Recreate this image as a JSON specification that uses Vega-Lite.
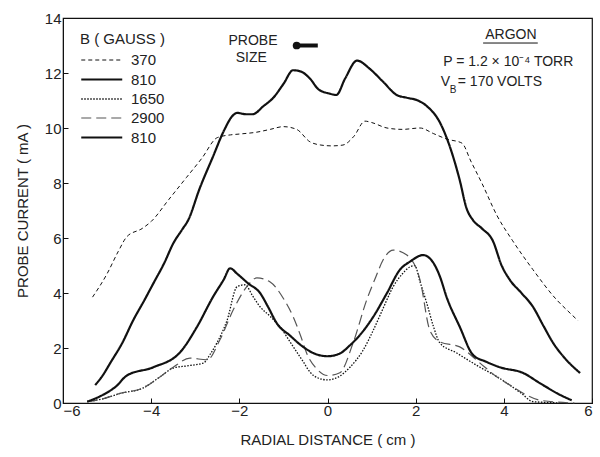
{
  "$schema": "https://vega.github.io/schema/vega-lite/v6.json",
  "width": 529,
  "height": 385,
  "autosize": "none",
  "padding": {"left": 63, "top": 18, "right": 8, "bottom": 54},
  "background": "white",
  "config": {
    "font": "Liberation Sans",
    "view": {"stroke": "#111", "strokeWidth": 1.2},
    "axis": {
      "labelFont": "Liberation Sans", "titleFont": "Liberation Sans",
      "labelFontSize": 15, "titleFontSize": 15, "titleFontWeight": "normal",
      "labelColor": "#222", "titleColor": "#222",
      "grid": false, "domainColor": "#111", "tickColor": "#111", "tickSize": -5, "tickWidth": 1
    }
  },
  "datasets": {
    "curves": [
      {"s":"370","x":-5.33,"y":3.85},{"s":"370","x":-5.0,"y":4.7},{"s":"370","x":-4.75,"y":5.5},{"s":"370","x":-4.55,"y":6.05},{"s":"370","x":-4.2,"y":6.35},{"s":"370","x":-4.0,"y":6.6},{"s":"370","x":-3.6,"y":7.4},{"s":"370","x":-3.2,"y":8.2},{"s":"370","x":-2.85,"y":8.9},{"s":"370","x":-2.5,"y":9.65},{"s":"370","x":-2.2,"y":9.75},{"s":"370","x":-2.0,"y":9.78},{"s":"370","x":-1.6,"y":9.85},{"s":"370","x":-1.3,"y":9.95},{"s":"370","x":-1.0,"y":10.05},{"s":"370","x":-0.7,"y":9.95},{"s":"370","x":-0.4,"y":9.5},{"s":"370","x":-0.15,"y":9.38},{"s":"370","x":0.1,"y":9.35},{"s":"370","x":0.35,"y":9.38},{"s":"370","x":0.6,"y":9.7},{"s":"370","x":0.85,"y":10.25},{"s":"370","x":1.0,"y":10.2},{"s":"370","x":1.35,"y":10.0},{"s":"370","x":1.7,"y":9.95},{"s":"370","x":2.1,"y":10.0},{"s":"370","x":2.4,"y":9.8},{"s":"370","x":2.7,"y":9.6},{"s":"370","x":3.05,"y":9.45},{"s":"370","x":3.25,"y":8.8},{"s":"370","x":3.5,"y":8.0},{"s":"370","x":3.85,"y":6.8},{"s":"370","x":4.2,"y":5.9},{"s":"370","x":4.66,"y":4.85},{"s":"370","x":5.2,"y":3.75},{"s":"370","x":5.45,"y":3.35},{"s":"370","x":5.68,"y":3.0},

      {"s":"810","x":-5.27,"y":0.65},{"s":"810","x":-5.1,"y":1.0},{"s":"810","x":-4.93,"y":1.45},{"s":"810","x":-4.65,"y":2.2},{"s":"810","x":-4.41,"y":3.0},{"s":"810","x":-4.15,"y":3.75},{"s":"810","x":-3.95,"y":4.35},{"s":"810","x":-3.7,"y":5.1},{"s":"810","x":-3.5,"y":5.8},{"s":"810","x":-3.3,"y":6.3},{"s":"810","x":-3.16,"y":6.65},{"s":"810","x":-2.9,"y":7.8},{"s":"810","x":-2.6,"y":8.95},{"s":"810","x":-2.35,"y":9.9},{"s":"810","x":-2.15,"y":10.45},{"s":"810","x":-2.05,"y":10.55},{"s":"810","x":-1.85,"y":10.5},{"s":"810","x":-1.7,"y":10.5},{"s":"810","x":-1.45,"y":10.8},{"s":"810","x":-1.23,"y":11.1},{"s":"810","x":-1.0,"y":11.6},{"s":"810","x":-0.78,"y":12.1},{"s":"810","x":-0.6,"y":12.05},{"s":"810","x":-0.4,"y":11.8},{"s":"810","x":-0.2,"y":11.4},{"s":"810","x":0.05,"y":11.25},{"s":"810","x":0.2,"y":11.2},{"s":"810","x":0.4,"y":11.8},{"s":"810","x":0.67,"y":12.45},{"s":"810","x":0.96,"y":12.15},{"s":"810","x":1.25,"y":11.7},{"s":"810","x":1.57,"y":11.2},{"s":"810","x":1.8,"y":11.1},{"s":"810","x":2.05,"y":11.0},{"s":"810","x":2.25,"y":10.8},{"s":"810","x":2.55,"y":10.2},{"s":"810","x":2.78,"y":9.3},{"s":"810","x":3.0,"y":8.1},{"s":"810","x":3.15,"y":7.1},{"s":"810","x":3.3,"y":6.65},{"s":"810","x":3.5,"y":6.35},{"s":"810","x":3.75,"y":5.9},{"s":"810","x":3.95,"y":5.0},{"s":"810","x":4.14,"y":4.47},{"s":"810","x":4.4,"y":4.0},{"s":"810","x":4.66,"y":3.5},{"s":"810","x":4.9,"y":2.8},{"s":"810","x":5.12,"y":2.18},{"s":"810","x":5.4,"y":1.6},{"s":"810","x":5.73,"y":1.09},

      {"s":"1650","x":-5.45,"y":0.05},{"s":"1650","x":-5.1,"y":0.15},{"s":"1650","x":-4.7,"y":0.35},{"s":"1650","x":-4.18,"y":0.55},{"s":"1650","x":-3.8,"y":0.95},{"s":"1650","x":-3.5,"y":1.27},{"s":"1650","x":-3.19,"y":1.35},{"s":"1650","x":-2.82,"y":1.45},{"s":"1650","x":-2.65,"y":1.8},{"s":"1650","x":-2.51,"y":2.18},{"s":"1650","x":-2.28,"y":3.0},{"s":"1650","x":-2.05,"y":4.23},{"s":"1650","x":-1.87,"y":4.3},{"s":"1650","x":-1.7,"y":3.9},{"s":"1650","x":-1.53,"y":3.5},{"s":"1650","x":-1.3,"y":3.15},{"s":"1650","x":-1.08,"y":2.77},{"s":"1650","x":-0.78,"y":2.05},{"s":"1650","x":-0.55,"y":1.5},{"s":"1650","x":-0.4,"y":1.13},{"s":"1650","x":-0.2,"y":0.9},{"s":"1650","x":0.0,"y":0.84},{"s":"1650","x":0.25,"y":0.95},{"s":"1650","x":0.51,"y":1.3},{"s":"1650","x":0.8,"y":1.9},{"s":"1650","x":1.04,"y":2.65},{"s":"1650","x":1.25,"y":3.4},{"s":"1650","x":1.49,"y":4.23},{"s":"1650","x":1.7,"y":4.7},{"s":"1650","x":1.87,"y":4.95},{"s":"1650","x":1.98,"y":5.0},{"s":"1650","x":2.1,"y":4.4},{"s":"1650","x":2.25,"y":3.64},{"s":"1650","x":2.4,"y":2.8},{"s":"1650","x":2.55,"y":2.18},{"s":"1650","x":2.93,"y":1.82},{"s":"1650","x":3.2,"y":1.55},{"s":"1650","x":3.46,"y":1.3},{"s":"1650","x":3.8,"y":1.0},{"s":"1650","x":4.07,"y":0.72},{"s":"1650","x":4.4,"y":0.35},{"s":"1650","x":4.66,"y":0.05},{"s":"1650","x":5.4,"y":0.0},

      {"s":"2900","x":-5.45,"y":0.05},{"s":"2900","x":-5.1,"y":0.15},{"s":"2900","x":-4.7,"y":0.35},{"s":"2900","x":-4.18,"y":0.55},{"s":"2900","x":-3.8,"y":0.95},{"s":"2900","x":-3.5,"y":1.3},{"s":"2900","x":-3.12,"y":1.63},{"s":"2900","x":-2.73,"y":1.57},{"s":"2900","x":-2.44,"y":2.3},{"s":"2900","x":-2.14,"y":3.38},{"s":"2900","x":-1.83,"y":4.23},{"s":"2900","x":-1.6,"y":4.55},{"s":"2900","x":-1.3,"y":4.4},{"s":"2900","x":-1.0,"y":3.8},{"s":"2900","x":-0.78,"y":3.14},{"s":"2900","x":-0.6,"y":2.4},{"s":"2900","x":-0.47,"y":1.8},{"s":"2900","x":-0.25,"y":1.25},{"s":"2900","x":0.0,"y":1.0},{"s":"2900","x":0.28,"y":1.1},{"s":"2900","x":0.58,"y":2.18},{"s":"2900","x":0.89,"y":3.75},{"s":"2900","x":1.1,"y":4.6},{"s":"2900","x":1.26,"y":5.2},{"s":"2900","x":1.49,"y":5.56},{"s":"2900","x":1.8,"y":5.38},{"s":"2900","x":2.1,"y":4.47},{"s":"2900","x":2.32,"y":2.65},{"s":"2900","x":2.55,"y":2.22},{"s":"2900","x":3.0,"y":2.04},{"s":"2900","x":3.46,"y":1.45},{"s":"2900","x":3.8,"y":1.0},{"s":"2900","x":4.21,"y":0.58},{"s":"2900","x":4.5,"y":0.3},{"s":"2900","x":4.82,"y":0.1},{"s":"2900","x":5.6,"y":0.0},

      {"s":"810b","x":-5.45,"y":0.05},{"s":"810b","x":-5.09,"y":0.3},{"s":"810b","x":-4.8,"y":0.6},{"s":"810b","x":-4.55,"y":1.0},{"s":"810b","x":-3.95,"y":1.3},{"s":"810b","x":-3.34,"y":1.85},{"s":"810b","x":-2.96,"y":2.77},{"s":"810b","x":-2.6,"y":3.85},{"s":"810b","x":-2.35,"y":4.5},{"s":"810b","x":-2.21,"y":4.9},{"s":"810b","x":-2.05,"y":4.7},{"s":"810b","x":-1.8,"y":4.35},{"s":"810b","x":-1.53,"y":4.0},{"s":"810b","x":-1.35,"y":3.5},{"s":"810b","x":-1.15,"y":2.9},{"s":"810b","x":-0.85,"y":2.45},{"s":"810b","x":-0.56,"y":2.05},{"s":"810b","x":-0.3,"y":1.8},{"s":"810b","x":0.0,"y":1.7},{"s":"810b","x":0.28,"y":1.8},{"s":"810b","x":0.51,"y":2.1},{"s":"810b","x":0.75,"y":2.5},{"s":"810b","x":1.04,"y":3.14},{"s":"810b","x":1.35,"y":4.0},{"s":"810b","x":1.64,"y":4.84},{"s":"810b","x":1.87,"y":5.14},{"s":"810b","x":2.17,"y":5.38},{"s":"810b","x":2.4,"y":5.1},{"s":"810b","x":2.55,"y":4.6},{"s":"810b","x":2.7,"y":3.86},{"s":"810b","x":3.0,"y":2.77},{"s":"810b","x":3.3,"y":1.75},{"s":"810b","x":3.6,"y":1.5},{"s":"810b","x":3.91,"y":1.3},{"s":"810b","x":4.44,"y":1.09},{"s":"810b","x":4.82,"y":0.72},{"s":"810b","x":5.27,"y":0.3},{"s":"810b","x":5.54,"y":0.1}
    ],
    "notes": [
      {"t":"PROBE","x":-1.69,"y":13.16,"a":"center"},
      {"t":"SIZE","x":-1.73,"y":12.55,"a":"center"},
      {"t":"ARGON","x":4.16,"y":13.38,"a":"center"},
      {"t":"P = 1.2 × 10⁻⁴ TORR","x":4.1,"y":12.4,"a":"center"}
    ]
  },
  "layer": [
    {
      "data": {"name": "curves"},
      "mark": {"type": "line", "interpolate": "monotone"},
      "encoding": {
        "x": {"field": "x", "type": "quantitative", "scale": {"domain": [-6, 6], "nice": false},
              "axis": {"values": [-6, -4, -2, 0, 2, 4, 6], "title": "RADIAL DISTANCE ( cm )", "labelPadding": 5, "titlePadding": 14}},
        "y": {"field": "y", "type": "quantitative", "scale": {"domain": [0, 14], "nice": false},
              "axis": {"values": [0, 2, 4, 6, 8, 10, 12, 14], "title": "PROBE CURRENT ( mA )", "labelPadding": 7, "titlePadding": 14}},
        "color": {"field": "s", "type": "nominal",
                  "scale": {"domain": ["370", "810", "1650", "2900", "810b"], "range": ["#111", "#111", "#111", "#555", "#111"]},
                  "legend": {"title": "B ( GAUSS )", "orient": "none", "legendX": 17, "legendY": 14, "padding": 0,
                             "labelExpr": "datum.label == '810b' ? '810' : datum.label",
                             "symbolType": "M-1,0H3", "symbolSize": 420, "rowPadding": -2, "labelOffset": 28, "titlePadding": 2,
                             "labelFontSize": 15, "titleFontSize": 15, "titleFontWeight": "normal",
                             "labelColor": "#222", "titleColor": "#222", "labelFont": "Liberation Sans", "titleFont": "Liberation Sans"}},
        "strokeDash": {"field": "s", "type": "nominal",
                       "scale": {"type": "ordinal", "domain": ["370", "810", "1650", "2900", "810b"], "range": [[4, 3], [1, 0], [1.5, 1.5], [10, 5], [1, 0]]}},
        "strokeWidth": {"field": "s", "type": "nominal",
                        "scale": {"type": "ordinal", "domain": ["370", "810", "1650", "2900", "810b"], "range": [1, 2.2, 1.3, 1.2, 2.2]}}
      }
    },
    {
      "data": {"values": [{"x1": -0.7, "x2": -0.22, "y": 13.0}]},
      "mark": {"type": "rule", "strokeWidth": 4, "color": "#111"},
      "encoding": {"x": {"field": "x1", "type": "quantitative"}, "x2": {"field": "x2"}, "y": {"field": "y", "type": "quantitative"}}
    },
    {
      "data": {"values": [{"x": -0.7, "y": 13.0}]},
      "mark": {"type": "point", "filled": true, "size": 60, "color": "#111", "opacity": 1},
      "encoding": {"x": {"field": "x", "type": "quantitative"}, "y": {"field": "y", "type": "quantitative"}}
    },
    {
      "data": {"values": [{"x1": 3.53, "x2": 4.77, "y": 13.09}]},
      "mark": {"type": "rule", "strokeWidth": 1, "color": "#111"},
      "encoding": {"x": {"field": "x1", "type": "quantitative"}, "x2": {"field": "x2"}, "y": {"field": "y", "type": "quantitative"}}
    },
    {
      "data": {"name": "notes"},
      "mark": {"type": "text", "fontSize": 14, "color": "#222", "align": "center", "baseline": "middle"},
      "encoding": {"x": {"field": "x", "type": "quantitative"}, "y": {"field": "y", "type": "quantitative"}, "text": {"field": "t"}}
    },
    {
      "data": {"values": [{"t": "V", "x": 2.57, "y": 11.67}]},
      "mark": {"type": "text", "fontSize": 14, "color": "#222", "align": "left", "baseline": "middle"},
      "encoding": {"x": {"field": "x", "type": "quantitative"}, "y": {"field": "y", "type": "quantitative"}, "text": {"field": "t"}}
    },
    {
      "data": {"values": [{"t": "B", "x": 2.57, "y": 11.67}]},
      "mark": {"type": "text", "fontSize": 10, "color": "#222", "align": "left", "baseline": "middle", "dx": 9, "dy": 8},
      "encoding": {"x": {"field": "x", "type": "quantitative"}, "y": {"field": "y", "type": "quantitative"}, "text": {"field": "t"}}
    },
    {
      "data": {"values": [{"t": "= 170 VOLTS", "x": 2.57, "y": 11.67}]},
      "mark": {"type": "text", "fontSize": 14, "color": "#222", "align": "left", "baseline": "middle", "dx": 17},
      "encoding": {"x": {"field": "x", "type": "quantitative"}, "y": {"field": "y", "type": "quantitative"}, "text": {"field": "t"}}
    }
  ]
}
